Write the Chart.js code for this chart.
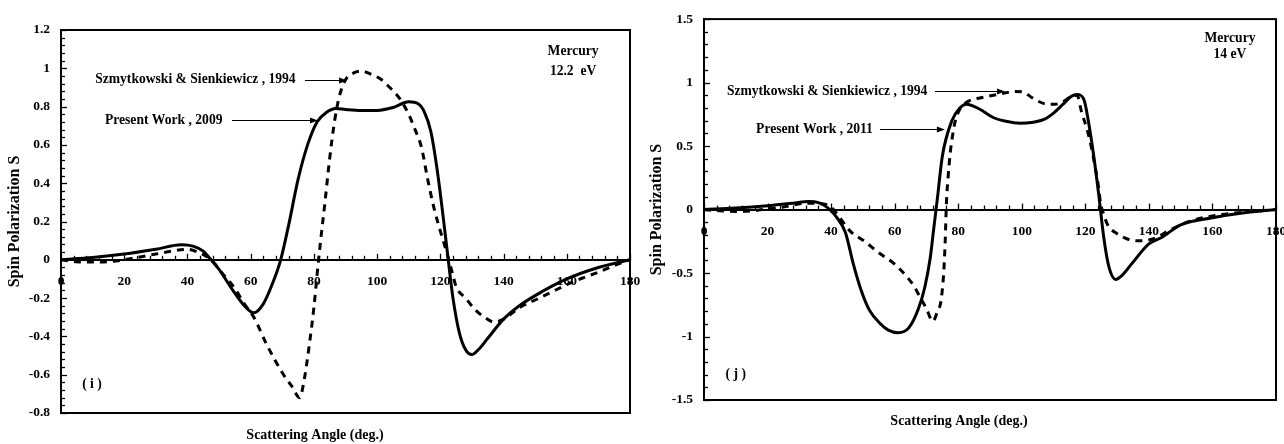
<!DOCTYPE html>
<html><head><meta charset="utf-8">
<script src="https://cdn.jsdelivr.net/npm/chart.js@4.4.1/dist/chart.umd.min.js"></script>
<style>
html,body{margin:0;padding:0;background:#fff;}
#wrap{position:relative;width:1284px;height:444px;overflow:hidden;}
.c{position:absolute;top:0;width:642px;height:444px;}
</style></head><body>
<div id="wrap">
<div class="c" style="left:0"><canvas id="chartI" width="642" height="444"></canvas></div>
<div class="c" style="left:642px"><canvas id="chartJ" width="642" height="444"></canvas></div>
</div>
<script>
// ---------- Panel (i): Mercury 12.2 eV ----------
const anglesPresentI = [0,10,20,30,38,42,45,47,50,54,58,61,64,67,69.5,72,75,78,81,84,87,90,95,100,105,110,113,115,117,119,121,122.5,124,126,128,130,132,135,140,145,150,160,170,180];
const presentI = [0,0.012,0.03,0.055,0.078,0.07,0.045,0.01,-0.05,-0.15,-0.24,-0.277,-0.23,-0.12,0,0.18,0.42,0.6,0.72,0.77,0.79,0.785,0.78,0.78,0.795,0.825,0.815,0.77,0.67,0.47,0.21,0,-0.2,-0.38,-0.47,-0.495,-0.47,-0.41,-0.31,-0.24,-0.187,-0.1,-0.04,0];
const anglesSzmytI = [0,5,10,15,20,25,30,35,40,44,47.5,51,55,58,61,65,70,73,75.5,77,78.5,80,81,82,83.5,85,86.5,88,90,92.5,95,98,101,104,107,110,112,114,116,118,120,122,123.5,125,128,131,134,137,140,145,150,155,160,165,170,175,180];
const szmytI = [0,-0.01,-0.012,-0.01,0,0.015,0.03,0.045,0.055,0.035,0,-0.07,-0.15,-0.23,-0.3,-0.44,-0.59,-0.66,-0.72,-0.62,-0.45,-0.25,-0.08,0.08,0.3,0.53,0.72,0.85,0.94,0.975,0.985,0.97,0.945,0.9,0.845,0.76,0.68,0.59,0.42,0.27,0.15,0.04,-0.05,-0.14,-0.2,-0.26,-0.3,-0.325,-0.31,-0.25,-0.21,-0.17,-0.13,-0.095,-0.065,-0.03,0];
const yTickValuesI = [-0.8,-0.6,-0.4,-0.2,0,0.2,0.4,0.6,0.8,1,1.2];
const yTickLabelsI = ['-0.8','-0.6','-0.4','-0.2','0','0.2','0.4','0.6','0.8','1','1.2'];

// ---------- Panel (j): Mercury 14 eV ----------
const anglesPresentJ = [0,10,20,28,33,36,39.6,42,44.5,47,49.5,52,55.5,58,61,64.5,67.5,69.5,71.2,72.2,73.5,75,78,80.5,82.6,86.8,91,95,99.5,103,107,110,113,115.5,117.4,119.5,121,122.6,124.2,125.8,127.4,129.5,131.5,134.5,140,144,150,160,170,180];
const presentJ = [0,0.012,0.03,0.05,0.0625,0.055,0,-0.07,-0.18,-0.43,-0.64,-0.79,-0.9,-0.95,-0.97,-0.93,-0.78,-0.61,-0.38,-0.17,0.1,0.42,0.7,0.8,0.83,0.79,0.725,0.695,0.68,0.685,0.71,0.76,0.83,0.89,0.907,0.87,0.69,0.43,0.12,-0.22,-0.45,-0.55,-0.52,-0.43,-0.27,-0.22,-0.12,-0.065,-0.026,0];
const anglesSzmytJ = [0,5,10,15,20,25,32,37,40,42,46,50.5,55,60,63.5,66,68,70,72,73.5,74.5,75.4,75.9,76.3,76.8,77.5,78.2,79,80.5,83,86,89,92,95,98,100.5,103,105,108,110.5,113,115.5,117.4,118.9,120.5,122,123.2,124.2,124.8,125.8,127,130,133,136.5,141.5,146,152,160,170,176,180];
const szmytJ = [0,-0.01,-0.015,-0.01,0.005,0.02,0.05,0.045,0.02,-0.04,-0.17,-0.25,-0.34,-0.43,-0.52,-0.6,-0.69,-0.78,-0.88,-0.8,-0.73,-0.51,-0.25,0.06,0.25,0.45,0.58,0.69,0.79,0.85,0.875,0.89,0.905,0.92,0.93,0.925,0.885,0.855,0.83,0.83,0.85,0.89,0.9,0.76,0.635,0.48,0.32,0.17,0.05,-0.04,-0.12,-0.19,-0.23,-0.246,-0.23,-0.17,-0.1,-0.05,-0.02,-0.008,0];
const yTickValuesJ = [-1.5,-1,-0.5,0,0.5,1,1.5];
const yTickLabelsJ = ['-1.5','-1','-0.5','0','0.5','1','1.5'];

// ---------- shared ----------
const xTickValues = [0,20,40,60,80,100,120,140,160,180];
const xTickLabels = ['0','20','40','60','80','100','120','140','160','180'];

const FAMILY = '"Liberation Serif", "Times New Roman", serif';
const tickFont = {family: FAMILY, size: 13.5, weight: 'bold'};
const xTitleFont = {family: FAMILY, size: 14, weight: 'bold'};
const yTitleFont = {family: FAMILY, size: 16, weight: 'bold'};

const framePlugin = {
  id: 'frame',
  afterDraw(chart, args, o) {
    const {ctx, chartArea: a} = chart;
    const x = chart.scales.x, y = chart.scales.y;
    ctx.save();
    ctx.strokeStyle = '#000';
    ctx.fillStyle = '#000';
    // x ticks (inside, on the zero line)
    const y0 = y.getPixelForValue(0);
    ctx.lineWidth = 1.3;
    const nx = Math.round((x.max - x.min) / o.xMinor);
    for (let i = 0; i <= nx; i++) {
      const v = x.min + i * o.xMinor;
      const px = Math.round(x.getPixelForValue(v)) + 0.5;
      const major = xTickValues.includes(v);
      ctx.beginPath(); ctx.moveTo(px, y0 + 1); ctx.lineTo(px, y0 - (major ? 6 : 4)); ctx.stroke();
    }
    // y ticks (inside)
    const ny = Math.round((y.max - y.min) / o.yMinor);
    for (let i = 0; i <= ny; i++) {
      const v = y.min + i * o.yMinor;
      const py = Math.round(y.getPixelForValue(v)) + 0.5;
      const major = o.yMajor.some(t => Math.abs(t - v) < 1e-6);
      ctx.beginPath(); ctx.moveTo(a.left, py); ctx.lineTo(a.left + (major ? 6 : 4), py); ctx.stroke();
    }
    // frame
    ctx.lineWidth = 2;
    ctx.strokeRect(a.left, a.top, a.right - a.left, a.bottom - a.top);
    // texts
    ctx.font = 'bold ' + o.noteSize + 'px ' + FAMILY;
    ctx.textBaseline = 'middle';
    o.notes.forEach(n => {
      ctx.textAlign = n.align || 'left';
      ctx.fillText(n.text, x.getPixelForValue(n.x), y.getPixelForValue(n.y));
    });
    // arrows
    ctx.lineWidth = 1;
    o.arrows.forEach(r => {
      const x1 = x.getPixelForValue(r.x1), x2 = x.getPixelForValue(r.x2);
      const py = Math.round(y.getPixelForValue(r.y)) + 0.5;
      ctx.beginPath(); ctx.moveTo(x1, py); ctx.lineTo(x2 - 6, py); ctx.stroke();
      ctx.beginPath(); ctx.moveTo(x2, py); ctx.lineTo(x2 - 8, py - 3); ctx.lineTo(x2 - 8, py + 3); ctx.closePath(); ctx.fill();
    });
    ctx.restore();
  }
};

function pts(xs, ys) { return xs.map((v, i) => ({x: v, y: ys[i]})); }

function makeChart(id, cfg) {
  return new Chart(document.getElementById(id), {
    type: 'line',
    data: {
      datasets: [
        {label: 'Present Work', data: pts(cfg.aP, cfg.vP), borderColor: '#000', borderWidth: 3, pointRadius: 0, cubicInterpolationMode: 'monotone', fill: false},
        {label: 'Szmytkowski & Sienkiewicz , 1994', data: pts(cfg.aS, cfg.vS), borderColor: '#000', borderWidth: 3, borderDash: [7, 6], pointRadius: 0, cubicInterpolationMode: 'monotone', fill: false}
      ]
    },
    options: {
      responsive: false, animation: false, devicePixelRatio: 1,
      layout: {padding: {left: 0, top: cfg.padTop, right: cfg.padRight, bottom: 0}},
      plugins: {
        legend: {display: false}, tooltip: {enabled: false},
        title: {display: true, text: 'Scattering Angle (deg.)', position: 'bottom', color: '#000', font: xTitleFont, padding: cfg.titlePad},
        frame: cfg.frame
      },
      scales: {
        x: {
          type: 'linear', position: {y: 0}, min: 0, max: 180,
          afterBuildTicks(s) { s.ticks = xTickValues.map(v => ({value: v})); },
          afterFit(s) { s.paddingLeft = 0; s.paddingRight = 0; },
          ticks: {callback: (v, i) => xTickLabels[i], font: tickFont, color: '#000', padding: cfg.xPad, maxRotation: 0, autoSkip: false},
          grid: {display: false, drawTicks: false},
          border: {display: true, color: '#000', width: 2}
        },
        y: {
          type: 'linear', position: 'left', min: cfg.yTicks[0], max: cfg.yTicks[cfg.yTicks.length - 1],
          afterBuildTicks(s) { s.ticks = cfg.yTicks.map(v => ({value: v})); },
          afterFit(s) { s.width = cfg.yWidth; },
          ticks: {callback: (v, i) => cfg.yLabels[i], font: tickFont, color: '#000', padding: 11, autoSkip: false},
          grid: {display: false, drawTicks: false},
          border: {display: true, color: '#000', width: 2},
          title: {display: true, text: 'Spin Polarization S', color: '#000', font: yTitleFont, padding: {top: 5, bottom: 0}}
        }
      }
    },
    plugins: [framePlugin]
  });
}

makeChart('chartI', {
  aP: anglesPresentI, vP: presentI, aS: anglesSzmytI, vS: szmytI,
  yTicks: yTickValuesI, yLabels: yTickLabelsI,
  padTop: 30, padRight: 12, yWidth: 61, xPad: 14,
  titlePad: {top: 13.6, bottom: 0.6},
  frame: {
    xMinor: 4, yMinor: 0.04, yMajor: yTickValuesI, noteSize: 13.6,
    notes: [
      {text: 'Szmytkowski & Sienkiewicz , 1994', x: 10.8, y: 0.94},
      {text: 'Present Work , 2009', x: 13.9, y: 0.73},
      {text: 'Mercury', x: 162, y: 1.086, align: 'center'},
      {text: '12.2  eV', x: 162, y: 0.985, align: 'center'},
      {text: '( i )', x: 9.8, y: -0.653, align: 'center'}
    ],
    arrows: [
      {x1: 77.2, x2: 90.5, y: 0.94},
      {x1: 54.1, x2: 81.3, y: 0.73}
    ]
  }
});

makeChart('chartJ', {
  aP: anglesPresentJ, vP: presentJ, aS: anglesSzmytJ, vS: szmytJ,
  yTicks: yTickValuesJ, yLabels: yTickLabelsJ,
  padTop: 15, padRight: 8, yWidth: 62, xPad: 14,
  titlePad: {top: 12.6, bottom: 14.6},
  frame: {
    xMinor: 4, yMinor: 0.1, yMajor: yTickValuesJ, noteSize: 13.6,
    notes: [
      {text: 'Szmytkowski & Sienkiewicz , 1994', x: 7.2, y: 0.93},
      {text: 'Present Work , 2011', x: 16.4, y: 0.633},
      {text: 'Mercury', x: 165.5, y: 1.35, align: 'center'},
      {text: '14 eV', x: 165.5, y: 1.22, align: 'center'},
      {text: '( j )', x: 10, y: -1.3, align: 'center'}
    ],
    arrows: [
      {x1: 72.7, x2: 94.7, y: 0.93},
      {x1: 55.4, x2: 75.8, y: 0.633}
    ]
  }
});
</script>
</body></html>
